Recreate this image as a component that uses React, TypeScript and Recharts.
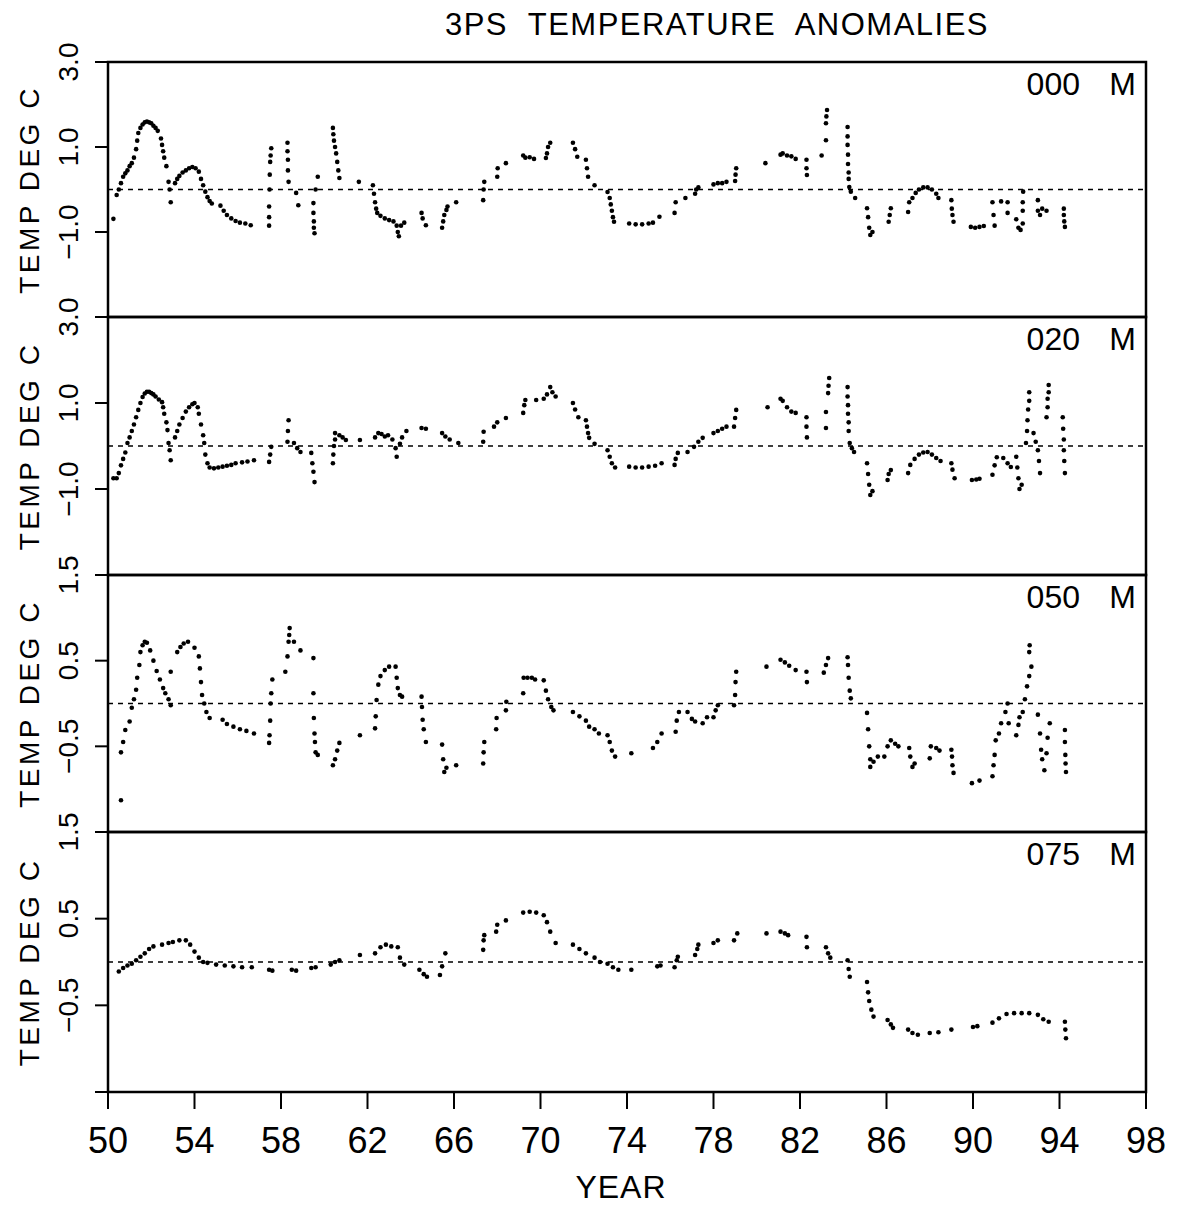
import React from 'react';
import { ScatterChart, Scatter, XAxis, YAxis, ReferenceLine, ReferenceArea, Label } from 'recharts';

const FONT = "'Liberation Sans', Arial, Helvetica, sans-serif";

const yearTicks = [50, 54, 58, 62, 66, 70, 74, 78, 82, 86, 90, 94, 98];
const depthNames = ['000', '020', '050', '075'];
const wideTicks = [-3, -1, 1, 3];
const wideTickLabels = ['', '\u22121.0', '1.0', '3.0'];
const narrowTicks = [-1.5, -0.5, 0.5, 1.5];
const narrowTickLabels = ['', '\u22120.5', '0.5', '1.5'];

// [year, anomaly], one pair per dot
const depth000: [number, number][] = [
  [50.25, -0.69], [50.4, -0.13], [50.5, 0.0], [50.6, 0.15], [50.7, 0.3], [50.8, 0.38], [50.9, 0.45], [51.0, 0.55],
  [51.1, 0.62], [51.2, 0.75], [51.3, 0.95], [51.35, 1.15], [51.4, 1.33], [51.5, 1.45], [51.6, 1.53], [51.7, 1.58],
  [51.8, 1.6], [51.9, 1.58], [52.0, 1.56], [52.1, 1.5], [52.2, 1.45], [52.3, 1.38], [52.45, 1.2], [52.5, 1.05],
  [52.55, 0.9], [52.6, 0.75], [52.7, 0.55], [52.8, 0.18], [52.85, 0.0], [52.9, -0.3], [53.1, 0.15], [53.2, 0.25],
  [53.3, 0.32], [53.45, 0.4], [53.6, 0.45], [53.75, 0.5], [53.9, 0.53], [54.05, 0.5], [54.2, 0.42], [54.3, 0.25],
  [54.4, 0.1], [54.5, -0.05], [54.6, -0.18], [54.7, -0.27], [54.8, -0.33], [55.2, -0.38], [55.35, -0.5], [55.5, -0.6],
  [55.7, -0.68], [55.9, -0.74], [56.1, -0.78], [56.35, -0.8], [56.6, -0.84],
  [57.45, -0.85], [57.45, -0.65], [57.45, -0.4], [57.47, 0.0], [57.48, 0.35], [57.5, 0.65], [57.52, 0.8], [57.55, 0.97],
  [58.3, 1.1], [58.3, 0.9], [58.32, 0.7], [58.32, 0.45], [58.35, 0.18], [58.7, -0.08], [58.8, -0.37],
  [59.5, -0.32], [59.5, -0.55], [59.52, -0.75], [59.52, -0.9], [59.55, -1.03], [59.6, 0.0], [59.7, 0.3],
  [60.4, 1.45], [60.42, 1.3], [60.45, 1.15], [60.5, 1.0], [60.55, 0.85], [60.6, 0.65], [60.65, 0.45], [60.7, 0.27],
  [61.6, 0.18],
  [62.25, 0.1], [62.3, -0.1], [62.35, -0.3], [62.4, -0.45], [62.45, -0.55], [62.6, -0.62], [62.8, -0.68], [63.0, -0.72],
  [63.2, -0.75], [63.35, -0.85], [63.4, -1.0], [63.45, -1.1], [63.55, -0.85], [63.7, -0.78],
  [64.5, -0.55], [64.55, -0.68], [64.7, -0.84], [65.45, -0.9], [65.5, -0.75], [65.55, -0.6], [65.65, -0.48], [65.7, -0.4],
  [66.1, -0.3], [67.35, -0.25], [67.37, 0.0], [67.4, 0.18], [68.0, 0.3], [68.02, 0.5], [68.4, 0.62],
  [69.2, 0.8], [69.3, 0.75], [69.5, 0.76], [69.7, 0.72], [70.25, 0.74], [70.3, 0.85], [70.35, 1.0], [70.45, 1.1],
  [71.5, 1.1], [71.6, 0.95], [71.7, 0.77], [72.1, 0.7], [72.15, 0.5], [72.2, 0.3], [72.5, 0.1],
  [73.1, -0.06], [73.2, -0.2], [73.25, -0.35], [73.3, -0.5], [73.35, -0.65], [73.4, -0.76],
  [74.1, -0.8], [74.4, -0.82], [74.7, -0.82], [75.0, -0.8], [75.2, -0.78], [75.5, -0.64],
  [76.2, -0.55], [76.25, -0.3], [76.7, -0.2], [77.15, -0.1], [77.2, 0.0], [77.3, 0.05],
  [78.0, 0.12], [78.2, 0.15], [78.4, 0.15], [78.6, 0.18], [79.0, 0.2], [79.02, 0.35], [79.05, 0.5],
  [80.4, 0.62], [81.1, 0.82], [81.2, 0.85], [81.4, 0.8], [81.6, 0.78], [81.8, 0.72],
  [82.3, 0.7], [82.3, 0.5], [82.32, 0.34], [83.0, 0.8], [83.2, 1.16], [83.2, 1.56], [83.22, 1.72], [83.25, 1.87],
  [84.2, 1.47], [84.2, 1.25], [84.2, 1.05], [84.22, 0.82], [84.22, 0.6], [84.25, 0.4], [84.25, 0.25], [84.28, 0.06],
  [84.35, -0.05], [84.55, -0.2],
  [85.1, -0.44], [85.15, -0.65], [85.2, -0.9], [85.25, -1.07], [85.35, -1.0], [86.1, -0.76], [86.15, -0.6], [86.2, -0.44],
  [87.0, -0.53], [87.05, -0.3], [87.2, -0.2], [87.35, -0.08], [87.5, 0.0], [87.7, 0.05], [87.9, 0.05], [88.1, 0.0],
  [88.3, -0.1], [88.4, -0.2], [89.0, -0.25], [89.02, -0.45], [89.05, -0.6], [89.1, -0.76],
  [89.9, -0.88], [90.1, -0.9], [90.3, -0.88], [90.5, -0.86],
  [90.9, -0.3], [90.95, -0.6], [91.0, -0.85], [91.3, -0.28], [91.6, -0.3], [91.6, -0.55],
  [92.0, -0.7], [92.1, -0.9], [92.2, -0.95], [92.3, -0.8], [92.3, -0.5], [92.3, -0.3], [92.32, -0.05],
  [93.0, -0.25], [93.0, -0.5], [93.1, -0.6], [93.2, -0.45], [93.4, -0.5],
  [94.2, -0.45], [94.2, -0.6], [94.22, -0.75], [94.25, -0.88],
];

const depth020: [number, number][] = [
  [50.25, -0.75], [50.4, -0.75], [50.5, -0.63], [50.6, -0.45], [50.7, -0.3], [50.8, -0.15], [50.9, 0.07], [51.0, 0.2],
  [51.1, 0.35], [51.2, 0.5], [51.3, 0.67], [51.4, 0.84], [51.5, 1.0], [51.6, 1.14], [51.7, 1.22], [51.8, 1.26],
  [51.9, 1.26], [52.0, 1.23], [52.1, 1.2], [52.2, 1.15], [52.35, 1.08], [52.5, 1.02], [52.55, 0.9], [52.6, 0.75],
  [52.7, 0.55], [52.75, 0.37], [52.8, 0.07], [52.85, -0.1], [52.9, -0.33],
  [53.1, 0.2], [53.2, 0.35], [53.3, 0.5], [53.45, 0.65], [53.6, 0.8], [53.75, 0.9], [53.9, 0.97], [54.0, 1.0],
  [54.15, 0.9], [54.2, 0.75], [54.3, 0.5], [54.4, 0.25], [54.45, 0.07], [54.5, -0.2], [54.6, -0.4], [54.7, -0.5],
  [54.9, -0.52], [55.1, -0.5], [55.3, -0.48], [55.5, -0.46], [55.7, -0.44], [55.9, -0.4], [56.2, -0.38], [56.45, -0.36],
  [56.75, -0.33], [57.45, -0.37], [57.5, -0.2], [57.55, -0.02],
  [58.3, 0.1], [58.32, 0.35], [58.35, 0.6], [58.6, 0.07], [58.75, -0.05], [58.9, -0.14],
  [59.4, -0.16], [59.45, -0.4], [59.5, -0.6], [59.55, -0.84],
  [60.4, -0.4], [60.42, -0.2], [60.45, 0.0], [60.5, 0.15], [60.5, 0.3], [60.7, 0.25], [60.85, 0.2], [61.0, 0.14],
  [61.65, 0.14], [62.35, 0.2], [62.5, 0.3], [62.65, 0.28], [62.8, 0.22], [62.95, 0.25], [63.15, 0.15], [63.3, -0.05],
  [63.35, -0.25], [63.5, 0.05], [63.6, 0.2], [63.8, 0.35], [64.5, 0.42], [64.7, 0.4],
  [65.45, 0.3], [65.6, 0.22], [65.8, 0.15], [66.2, 0.07], [67.35, 0.1], [67.37, 0.33], [67.85, 0.45], [68.0, 0.55],
  [68.4, 0.65], [69.2, 0.77], [69.25, 0.95], [69.3, 1.07], [69.8, 1.07],
  [70.15, 1.1], [70.3, 1.2], [70.45, 1.37], [70.55, 1.25], [70.7, 1.15], [71.5, 1.0], [71.6, 0.85], [71.75, 0.67],
  [72.1, 0.6], [72.15, 0.45], [72.2, 0.3], [72.25, 0.19], [72.5, 0.05],
  [73.1, -0.1], [73.2, -0.25], [73.3, -0.4], [73.45, -0.5],
  [74.1, -0.48], [74.4, -0.5], [74.7, -0.5], [75.0, -0.48], [75.3, -0.46], [75.6, -0.4],
  [76.2, -0.44], [76.25, -0.3], [76.35, -0.16], [76.8, -0.14], [77.1, -0.02], [77.3, 0.1], [77.5, 0.19],
  [78.0, 0.3], [78.2, 0.35], [78.4, 0.4], [78.6, 0.45], [78.95, 0.45], [79.0, 0.65], [79.05, 0.84],
  [80.5, 0.9], [81.1, 1.1], [81.2, 1.05], [81.4, 0.9], [81.6, 0.8], [81.8, 0.77],
  [82.3, 0.67], [82.3, 0.45], [82.32, 0.2], [83.2, 0.42], [83.2, 0.79], [83.3, 1.23], [83.32, 1.4], [83.35, 1.58],
  [84.2, 1.37], [84.2, 1.15], [84.22, 0.95], [84.22, 0.75], [84.25, 0.55], [84.25, 0.35], [84.3, 0.07], [84.4, -0.05],
  [84.5, -0.14],
  [85.1, -0.4], [85.15, -0.65], [85.2, -0.9], [85.25, -1.14], [85.35, -1.05], [86.05, -0.79], [86.1, -0.65], [86.2, -0.56],
  [87.0, -0.63], [87.1, -0.44], [87.3, -0.3], [87.5, -0.2], [87.7, -0.15], [87.9, -0.14], [88.1, -0.2], [88.3, -0.28],
  [88.5, -0.35], [89.0, -0.4], [89.05, -0.55], [89.15, -0.75], [89.95, -0.79], [90.15, -0.78], [90.3, -0.76],
  [90.9, -0.67], [91.0, -0.45], [91.1, -0.26], [91.4, -0.28], [91.6, -0.4], [91.75, -0.49],
  [92.0, -0.25], [92.05, -0.5], [92.1, -0.75], [92.15, -1.0], [92.25, -0.9],
  [92.45, 0.07], [92.5, 0.35], [92.52, 0.6], [92.55, 0.85], [92.6, 1.05], [92.6, 1.25],
  [92.8, 0.3], [92.9, 0.1], [93.0, -0.1], [93.05, -0.35], [93.1, -0.63],
  [93.4, 0.67], [93.45, 0.9], [93.45, 1.1], [93.5, 1.25], [93.5, 1.42],
  [94.15, 0.67], [94.17, 0.4], [94.2, 0.15], [94.2, -0.1], [94.22, -0.35], [94.25, -0.63],
];

const depth050: [number, number][] = [
  [50.6, -1.13], [50.6, -0.57], [50.7, -0.45], [50.8, -0.31], [51.0, -0.21], [51.1, -0.05], [51.2, 0.05], [51.3, 0.16],
  [51.35, 0.3], [51.45, 0.45], [51.5, 0.6], [51.6, 0.68], [51.7, 0.72], [51.8, 0.71], [51.95, 0.62], [52.1, 0.5],
  [52.25, 0.38], [52.4, 0.28], [52.55, 0.18], [52.65, 0.12], [52.8, 0.05], [52.9, -0.02], [52.9, 0.37],
  [53.2, 0.6], [53.35, 0.66], [53.5, 0.7], [53.7, 0.72], [54.0, 0.65], [54.2, 0.55], [54.25, 0.41], [54.3, 0.25],
  [54.35, 0.1], [54.45, 0.0], [54.55, -0.1], [54.7, -0.17],
  [55.3, -0.19], [55.5, -0.24], [55.8, -0.27], [56.1, -0.3], [56.4, -0.32], [56.75, -0.35],
  [57.45, -0.46], [57.47, -0.37], [57.5, -0.2], [57.52, 0.0], [57.55, 0.12], [57.6, 0.28],
  [58.2, 0.37], [58.3, 0.55], [58.35, 0.72], [58.38, 0.8], [58.4, 0.88], [58.6, 0.72], [58.9, 0.62],
  [59.5, 0.53], [59.5, 0.12], [59.52, -0.17], [59.55, -0.35], [59.57, -0.45], [59.6, -0.57], [59.7, -0.6],
  [60.4, -0.72], [60.5, -0.65], [60.6, -0.55], [60.7, -0.46], [61.65, -0.37],
  [62.35, -0.29], [62.38, -0.15], [62.42, 0.04], [62.5, 0.22], [62.6, 0.32], [62.8, 0.39], [63.0, 0.43], [63.3, 0.43],
  [63.35, 0.3], [63.4, 0.18], [63.5, 0.1], [63.6, 0.08],
  [64.5, 0.08], [64.52, -0.04], [64.55, -0.19], [64.6, -0.3], [64.7, -0.45],
  [65.45, -0.48], [65.5, -0.65], [65.55, -0.8], [65.65, -0.75], [66.1, -0.72],
  [67.35, -0.7], [67.37, -0.57], [67.4, -0.45], [67.95, -0.3], [67.97, -0.17], [68.4, -0.08], [68.42, 0.02],
  [69.2, 0.12], [69.22, 0.3], [69.4, 0.3], [69.6, 0.3], [69.75, 0.28],
  [70.15, 0.27], [70.25, 0.15], [70.35, 0.05], [70.5, -0.04], [70.6, -0.08],
  [71.5, -0.1], [71.8, -0.15], [72.1, -0.2], [72.25, -0.27], [72.5, -0.3], [72.7, -0.35],
  [73.1, -0.37], [73.2, -0.45], [73.3, -0.55], [73.45, -0.62], [74.2, -0.58],
  [75.2, -0.52], [75.4, -0.45], [75.6, -0.35], [76.25, -0.33], [76.3, -0.2], [76.4, -0.1], [76.8, -0.1], [77.0, -0.18],
  [77.15, -0.21], [77.5, -0.23], [77.7, -0.16], [78.0, -0.16], [78.1, -0.08], [78.2, -0.02],
  [78.95, -0.02], [79.0, 0.1], [79.02, 0.25], [79.05, 0.37], [80.45, 0.43],
  [81.1, 0.51], [81.3, 0.48], [81.5, 0.44], [81.8, 0.39], [82.3, 0.37], [82.32, 0.25],
  [83.1, 0.36], [83.2, 0.45], [83.3, 0.53], [84.2, 0.54], [84.22, 0.45], [84.25, 0.3], [84.3, 0.15], [84.35, 0.06],
  [85.1, -0.11], [85.15, -0.3], [85.2, -0.5], [85.25, -0.65], [85.25, -0.74], [85.4, -0.68], [85.6, -0.62], [85.9, -0.62],
  [86.05, -0.5], [86.2, -0.43], [86.4, -0.47], [86.55, -0.5],
  [87.05, -0.52], [87.1, -0.62], [87.2, -0.74], [87.3, -0.7], [88.0, -0.64], [88.05, -0.5], [88.3, -0.52], [88.45, -0.55],
  [89.0, -0.54], [89.03, -0.62], [89.05, -0.72], [89.1, -0.81], [89.95, -0.93], [90.3, -0.9],
  [90.9, -0.85], [90.95, -0.72], [91.0, -0.6], [91.05, -0.43], [91.2, -0.35], [91.3, -0.23], [91.5, -0.1], [91.6, 0.0],
  [91.65, -0.23],
  [92.0, -0.37], [92.1, -0.25], [92.15, -0.16], [92.3, -0.1], [92.4, 0.05], [92.5, 0.2], [92.6, 0.32], [92.7, 0.43],
  [92.6, 0.6], [92.62, 0.68],
  [93.0, -0.13], [93.1, -0.35], [93.15, -0.54], [93.2, -0.65], [93.3, -0.78], [93.4, -0.58], [93.45, -0.4], [93.55, -0.23],
  [94.25, -0.31], [94.25, -0.45], [94.27, -0.6], [94.28, -0.7], [94.3, -0.8],
];

const depth075: [number, number][] = [
  [50.5, -0.11], [50.7, -0.07], [50.9, -0.04], [51.1, -0.02], [51.3, 0.02], [51.5, 0.06], [51.7, 0.1], [51.9, 0.15],
  [52.1, 0.18], [52.5, 0.2], [52.8, 0.22], [53.0, 0.23], [53.3, 0.25], [53.6, 0.25], [53.8, 0.2], [54.0, 0.12],
  [54.2, 0.05], [54.4, 0.0], [54.6, -0.01], [55.0, -0.03], [55.4, -0.04], [55.8, -0.05], [56.2, -0.06], [56.65, -0.06],
  [57.45, -0.09], [57.6, -0.1], [58.5, -0.09], [58.7, -0.1], [59.4, -0.07], [59.6, -0.06],
  [60.3, -0.03], [60.5, 0.0], [60.7, 0.02], [61.65, 0.08],
  [62.35, 0.1], [62.6, 0.17], [62.85, 0.2], [63.1, 0.18], [63.4, 0.17], [63.5, 0.05], [63.7, -0.03],
  [64.4, -0.09], [64.6, -0.14], [64.75, -0.17], [65.35, -0.15], [65.45, -0.05], [65.6, 0.1],
  [67.35, 0.14], [67.37, 0.25], [67.4, 0.31], [67.95, 0.35], [68.0, 0.43], [68.4, 0.48],
  [69.2, 0.57], [69.5, 0.58], [69.8, 0.57], [70.15, 0.54], [70.3, 0.46], [70.45, 0.35], [70.7, 0.22],
  [71.5, 0.2], [71.8, 0.15], [72.1, 0.1], [72.5, 0.05], [72.75, 0.0], [73.1, -0.02], [73.35, -0.06], [73.6, -0.09],
  [74.2, -0.09], [75.4, -0.05], [75.55, -0.04], [76.2, -0.06], [76.3, 0.02], [76.35, 0.06],
  [77.15, 0.08], [77.25, 0.15], [77.3, 0.2], [78.0, 0.22], [78.2, 0.25], [78.95, 0.25], [79.1, 0.33],
  [80.45, 0.33], [81.1, 0.35], [81.3, 0.33], [81.45, 0.31], [82.3, 0.29], [82.32, 0.17],
  [83.2, 0.17], [83.3, 0.1], [83.4, 0.05], [84.2, 0.02], [84.25, -0.08], [84.3, -0.17],
  [85.1, -0.23], [85.15, -0.35], [85.2, -0.45], [85.3, -0.55], [85.4, -0.63],
  [86.05, -0.67], [86.2, -0.72], [86.3, -0.76], [87.0, -0.78], [87.2, -0.82], [87.45, -0.84],
  [88.0, -0.82], [88.4, -0.81], [89.0, -0.78], [90.0, -0.75], [90.2, -0.74], [90.9, -0.7], [91.2, -0.65],
  [91.55, -0.6], [91.9, -0.59], [92.25, -0.59], [92.6, -0.59], [93.0, -0.61], [93.25, -0.66], [93.5, -0.69],
  [94.25, -0.69], [94.27, -0.78], [94.3, -0.88],
];

const panels = [
  { name: depthNames[0], points: depth000, top: 62, height: 255, domain: [-3, 3], ticks: wideTicks, labels: wideTickLabels },
  { name: depthNames[1], points: depth020, top: 317, height: 258, domain: [-3, 3], ticks: wideTicks, labels: wideTickLabels },
  { name: depthNames[2], points: depth050, top: 575, height: 257, domain: [-1.5, 1.5], ticks: narrowTicks, labels: narrowTickLabels },
  { name: depthNames[3], points: depth075, top: 832, height: 260, domain: [-1.5, 1.5], ticks: narrowTicks, labels: narrowTickLabels },
];

const PAD_TOP = 30;
const PAD_BOTTOM = 12;
const LEFT = 108;
const RIGHT = 1146;
const X_AXIS_H = 105;

const Dot = (props: any) => <circle cx={props.cx} cy={props.cy} r={2.3} fill="#000" />;

const Panel = ({ panel, last }: { panel: typeof panels[number]; last: boolean }) => {
  const data = panel.points.map(([year, temp]) => ({ year, temp }));
  const bottomY = PAD_TOP + panel.height;
  const chartH = bottomY + PAD_BOTTOM + (last ? X_AXIS_H : 0);
  const midY = PAD_TOP + panel.height / 2;

  const tempTick = (p: any) => {
    const i = panel.ticks.indexOf(p.payload.value);
    const text = i >= 0 ? panel.labels[i] : '';
    return (
      <g>
        <line x1={LEFT - 13} x2={LEFT} y1={p.y} y2={p.y} stroke="#000" strokeWidth={2} />
        {text && (
          <text transform={`translate(78,${p.y}) rotate(-90)`} textAnchor="middle" fontSize={28} fontFamily={FONT} fill="#000">
            {text}
          </text>
        )}
      </g>
    );
  };

  const yearTick = (p: any) => (
    <g>
      <line x1={p.x} x2={p.x} y1={bottomY} y2={bottomY + 17} stroke="#000" strokeWidth={2} />
      <text x={p.x} y={bottomY + 61} textAnchor="middle" fontSize={36} fontFamily={FONT} fill="#000">
        {p.payload.value}
      </text>
    </g>
  );

  return (
    <div style={{ position: 'absolute', left: 0, top: panel.top - PAD_TOP }}>
      <ScatterChart width={1184} height={chartH} margin={{ top: PAD_TOP, right: 1184 - RIGHT, bottom: PAD_BOTTOM, left: 0 }}>
        <XAxis
          type="number"
          dataKey="year"
          domain={[50, 98]}
          ticks={yearTicks}
          interval={0}
          allowDataOverflow
          hide={!last}
          height={last ? X_AXIS_H : 0}
          axisLine={false}
          tickLine={false}
          tick={yearTick}
        />
        <YAxis
          type="number"
          dataKey="temp"
          domain={panel.domain}
          ticks={panel.ticks}
          interval={0}
          allowDataOverflow
          width={LEFT}
          axisLine={false}
          tickLine={false}
          tick={tempTick}
          label={
            <Label
              content={() => (
                <text transform={`translate(39,${midY}) rotate(-90)`} textAnchor="middle" fontSize={28} letterSpacing={3.5} fontFamily={FONT} fill="#000">
                  TEMP DEG C
                </text>
              )}
            />
          }
        />
        <ReferenceLine y={0} stroke="#000" strokeWidth={1.5} strokeDasharray="5 5" />
        <ReferenceArea
          x1={50}
          x2={98}
          y1={panel.domain[0]}
          y2={panel.domain[1]}
          fill="none"
          fillOpacity={0}
          stroke="#000"
          strokeWidth={2.5}
          label={
            <Label
              content={() => (
                <g>
                  <text x={1080} y={PAD_TOP + 33} textAnchor="end" fontSize={32} fontFamily={FONT} fill="#000">
                    {panel.name}
                  </text>
                  <text x={1136} y={PAD_TOP + 33} textAnchor="end" fontSize={32} fontFamily={FONT} fill="#000">
                    M
                  </text>
                </g>
              )}
            />
          }
        />
        <Scatter data={data} dataKey="temp" fill="#000" shape={Dot} isAnimationActive={false} />
      </ScatterChart>
    </div>
  );
};

export default function App() {
  return (
    <div style={{ position: 'absolute', left: 0, top: 0, width: 1184, height: 1209, background: '#fff', fontFamily: FONT }}>
      <svg width={1184} height={1209} style={{ position: 'absolute', left: 0, top: 0 }}>
        <text x={717} y={35} textAnchor="middle" fontSize={31} letterSpacing={1.5} fontFamily={FONT} fill="#000" style={{ whiteSpace: 'pre' }}>
          3PS  TEMPERATURE  ANOMALIES
        </text>
        <text x={621} y={1198} textAnchor="middle" fontSize={32} letterSpacing={1} fontFamily={FONT} fill="#000">
          YEAR
        </text>
      </svg>
      {panels.map((panel, i) => (
        <Panel key={panel.name} panel={panel} last={i === panels.length - 1} />
      ))}
    </div>
  );
}
